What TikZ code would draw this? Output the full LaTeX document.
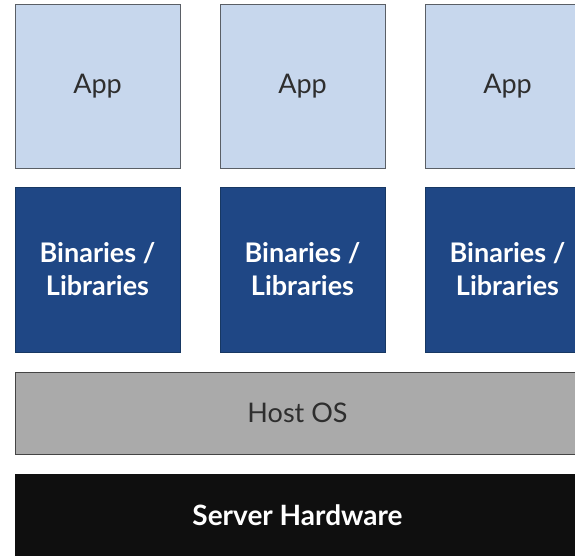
\documentclass[tikz,border=0pt]{standalone}
\usepackage{fontspec}
\setmainfont{Lato}
\definecolor{appfill}{HTML}{C7D7ED}
\definecolor{appborder}{HTML}{5A5F66}
\definecolor{binfill}{HTML}{1F4785}
\definecolor{binborder}{HTML}{173863}
\definecolor{osfill}{HTML}{AAAAAA}
\definecolor{osborder}{HTML}{454545}
\definecolor{hwfill}{HTML}{0F0F0F}
\definecolor{darktext}{HTML}{2E2E2E}
\begin{document}
\begin{tikzpicture}[x=1pt,y=-1pt,
  appbox/.style={draw=appborder, fill=appfill, line width=1pt, minimum width=165pt, minimum height=164pt, inner sep=0pt, text=darktext, font=\fontsize{27}{30}\selectfont},
  binbox/.style={draw=binborder, fill=binfill, line width=1pt, minimum width=165pt, minimum height=165pt, inner sep=0pt, text=white, align=center, font=\bfseries\fontsize{27}{33}\selectfont},
  osbox/.style={draw=osborder, fill=osfill, line width=1pt, minimum width=565pt, minimum height=82pt, inner sep=0pt, text=darktext, font=\fontsize{27}{30}\selectfont},
  hwbox/.style={draw=hwfill, fill=hwfill, minimum width=565pt, minimum height=82pt, inner sep=0pt, text=white, font=\bfseries\fontsize{28}{30}\selectfont}]
\useasboundingbox (0,0) rectangle (575,555);
\clip (0,0) rectangle (575,555);
\fill[white] (0,0) rectangle (575,555);
\node[appbox] (app1) at (97.5,86) {App};
\node[appbox] (app2) at (302.5,86) {App};
\node[appbox] (app3) at (507.5,86) {App};
\node[binbox] (bin1) at (97.5,269.5) {Binaries /\\Libraries};
\node[binbox] (bin2) at (302.5,269.5) {Binaries /\\Libraries};
\node[binbox] (bin3) at (507.5,269.5) {Binaries /\\Libraries};
\node[osbox] (os) at (297.5,413) {Host OS};
\node[hwbox] (hw) at (297.5,515) {Server Hardware};
\end{tikzpicture}
\end{document}
